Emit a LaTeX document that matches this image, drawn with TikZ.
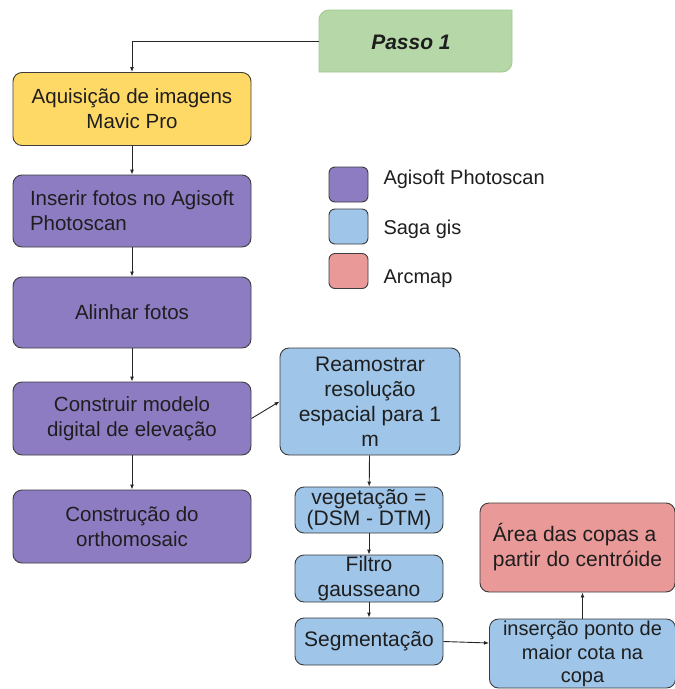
\documentclass[tikz,border=0pt]{standalone}
\usepackage{fontspec}
\setmainfont{Liberation Sans}
\usetikzlibrary{arrows.meta,calc}
\definecolor{yel}{HTML}{FFD966}
\definecolor{pur}{HTML}{8E7CC3}
\definecolor{blu}{HTML}{9FC5E8}
\definecolor{redc}{HTML}{EA9999}
\definecolor{grn}{HTML}{B6D7A8}
\definecolor{grnb}{HTML}{A2C98F}
\definecolor{bord}{HTML}{3C3C3C}
\definecolor{txt}{HTML}{1E1E1E}
\begin{document}
\begin{tikzpicture}[x=1pt,y=-1pt,
  box/.style={draw=bord, line width=0.9pt, rounded corners=9pt, inner sep=0pt,
    text=txt, font=\fontsize{20.5}{25}\selectfont, align=center},
  leftbox/.style={box, align=left},
  legsq/.style={draw=bord, line width=0.9pt, rounded corners=6pt, minimum width=39pt, minimum height=35pt, inner sep=0pt},
  legtxt/.style={anchor=base west, text=txt, font=\fontsize{20}{24}\selectfont},
  conn/.style={draw=black!85, line width=0.9pt, -{Latex[length=5pt,width=4pt]}}
]
\useasboundingbox (0,0) rectangle (675,689);
\clip (0,0) rectangle (675,689);

% Passo 1 box
\path[fill=grn, draw=grnb, line width=0.9pt]
  (319,40) [rounded corners=10pt] -- (319,10) -- (415,10) [sharp corners] -- (512,10) -- (512,40)
  [rounded corners=10pt] -- (512,72) -- (415,72) [sharp corners] -- (319,72) -- cycle;
\node[minimum width=193pt, minimum height=62pt, inner sep=0pt] (passo) at (415.5,41) {};
\node[text=txt, inner sep=0pt, font=\fontsize{21}{25}\selectfont\bfseries\itshape] (passot) at (411,42) {Passo 1};

% left column
\node[box, fill=yel, minimum width=238pt, minimum height=73pt] (acq) at (132,109) {Aquisição de imagens\\Mavic Pro};
\node[leftbox, fill=pur, minimum width=238pt, minimum height=72pt] (ins) at (132,211) {Inserir fotos no Agisoft\\Photoscan};
\node[box, fill=pur, minimum width=238pt, minimum height=71pt] (ali) at (132,312.5) {Alinhar fotos};
\node[box, fill=pur, minimum width=238pt, minimum height=73pt] (mde) at (132,418.5) {Construir modelo\\digital de elevação};
\node[box, fill=pur, minimum width=238pt, minimum height=73pt] (orto) at (132,526.5) {Construção do\\orthomosaic};

% legend
\node[legsq, fill=pur] (s1) at (348.5,184.5) {};
\node[legsq, fill=blu] (s2) at (348.5,226.5) {};
\node[legsq, fill=redc] (s3) at (348.5,271) {};
\node[legtxt] (l1) at (380,184) {Agisoft Photoscan};
\node[legtxt] (l2) at (380,234) {Saga gis};
\node[legtxt] (l3) at (380,283) {Arcmap};

% blue column
\node[box, fill=blu, minimum width=180pt, minimum height=107pt, font=\fontsize{21}{25}\selectfont] (ream) at (370,401.5) {Reamostrar\\resolução\\espacial para 1\\m};
\node[box, fill=blu, minimum width=148pt, minimum height=46pt, font=\fontsize{21}{21}\selectfont] (veg) at (369,510) {vegetação =\\(DSM - DTM)};
\node[box, fill=blu, minimum width=148pt, minimum height=47pt, font=\fontsize{21}{25}\selectfont] (fil) at (369,578.5) {Filtro\\gausseano};
\node[box, fill=blu, minimum width=148pt, minimum height=47pt, font=\fontsize{21}{25}\selectfont] (seg) at (369,641.5) {Segmentação};
\node[box, fill=blu, minimum width=186pt, minimum height=69pt] (pto) at (582.5,653.5) {};
\node[text=txt, align=center, inner sep=0pt, font=\fontsize{20}{23.5}\selectfont] (ptot) at (582.5,654) {inserção ponto de\\maior cota na\\copa};
\node[leftbox, fill=redc, minimum width=195pt, minimum height=89pt, font=\fontsize{21}{25}\selectfont] (area) at (577.5,547.5) {Área das copas a\\partir do centróide};

% connectors
\draw[conn] (passo.west) -| (acq.north);
\draw[conn] (acq) -- (ins);
\draw[conn] (ins) -- (ali);
\draw[conn] (ali) -- (mde);
\draw[conn] (mde) -- (orto);
\draw[conn] (mde.east) -- (ream.west);
\draw[conn] (ream) -- (veg);
\draw[conn] (veg) -- (fil);
\draw[conn] (fil) -- (seg);
\draw[conn] (seg.east) -- ([yshift=10.5pt]pto.west);
\draw[conn] (pto.north) -- (area.south -| pto.north);
\end{tikzpicture}
\end{document}
